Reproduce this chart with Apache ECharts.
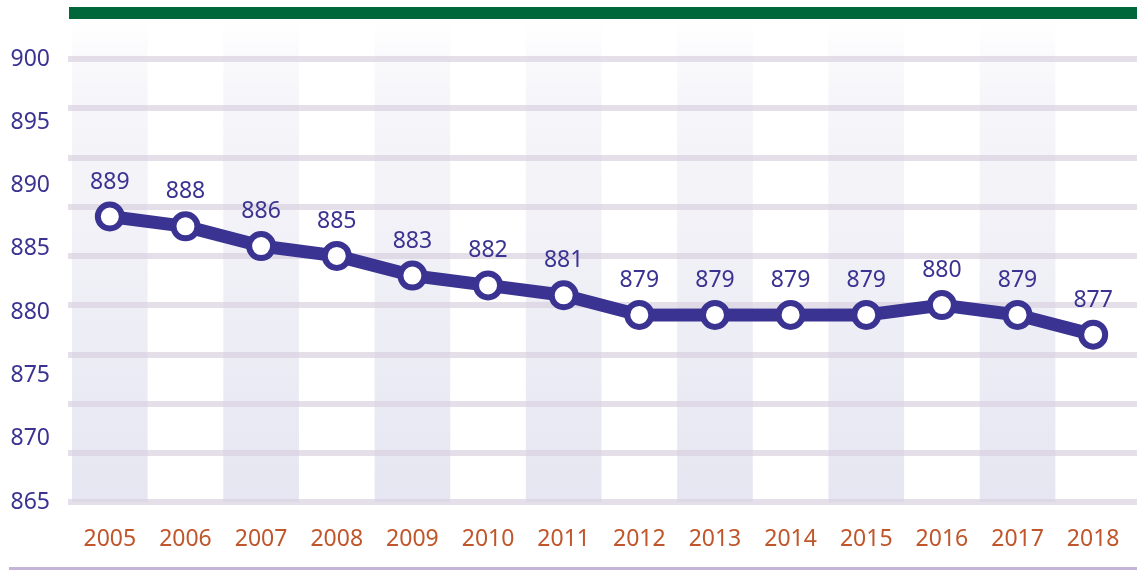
<!DOCTYPE html>
<html>
<head>
<meta charset="utf-8">
<script src="https://cdn.jsdelivr.net/npm/echarts@6/dist/echarts.min.js"></script>
<style>
  html, body { margin: 0; padding: 0; background: #fff; }
  #chart { width: 1137px; height: 570px; }
</style>
</head>
<body>
<div id="chart"></div>
<script>
const years = ['2005', '2006', '2007', '2008', '2009', '2010', '2011', '2012', '2013', '2014', '2015', '2016', '2017', '2018']
const values = [889, 888, 886, 885, 883, 882, 881, 879, 879, 879, 879, 880, 879, 877]
// tick labels shown on the left
const yTickLabels = [865, 870, 875, 880, 885, 890, 895, 900]
// scale the line and the grid lines are drawn on
const plotMin = 860
const plotMax = 905
const plotStep = 5

const purple = '#3a3391'
const font = 'Noto Sans'

const myChart = echarts.init(document.getElementById('chart'))

const bandFill = new echarts.graphic.LinearGradient(0, 0, 0, 1, [
  { offset: 0, color: 'rgba(230,230,242,0)' },
  { offset: 0.35, color: '#f3f3f8' },
  { offset: 1, color: '#e6e6f2' }
])

myChart.setOption({
  animation: false,
  grid: [
    // column bands + year labels
    { left: 72, right: 6, top: 20, bottom: 68 },
    // data line + left labels
    { left: 72, right: 6, top: 59, bottom: 68 },
    // horizontal rules
    { left: 68, right: 0, top: 59, bottom: 68 }
  ],
  xAxis: [
    {
      gridIndex: 0,
      type: 'category',
      data: years,
      boundaryGap: true,
      z: 0,
      axisLine: { show: false },
      axisTick: { show: false },
      axisLabel: {
        interval: 0,
        margin: 26,
        color: '#c0562b',
        fontFamily: font,
        fontSize: 23
      },
      splitArea: {
        show: true,
        interval: 0,
        areaStyle: { color: [bandFill, 'rgba(255,255,255,0)'] }
      }
    },
    {
      gridIndex: 1,
      type: 'category',
      data: years,
      boundaryGap: true,
      show: false
    },
    {
      gridIndex: 2,
      type: 'value',
      show: false
    }
  ],
  yAxis: [
    {
      gridIndex: 0,
      type: 'value',
      min: 0,
      max: 1,
      show: false,
      splitLine: { show: false }
    },
    {
      gridIndex: 1,
      type: 'value',
      min: plotMin,
      max: plotMax,
      interval: plotStep,
      position: 'right',
      axisLine: { show: false },
      axisTick: { show: false },
      axisLabel: { show: false },
      splitLine: { show: false }
    },
    {
      gridIndex: 1,
      type: 'value',
      position: 'left',
      min: yTickLabels[0],
      max: yTickLabels[yTickLabels.length - 1],
      interval: yTickLabels[1] - yTickLabels[0],
      axisLine: { show: false },
      axisTick: { show: false },
      splitLine: { show: false },
      axisLabel: {
        margin: 22,
        color: purple,
        fontFamily: font,
        fontSize: 23
      }
    },
    {
      gridIndex: 2,
      type: 'value',
      min: plotMin,
      max: plotMax,
      interval: plotStep,
      z: 1,
      axisLine: { show: false },
      axisTick: { show: false },
      axisLabel: { show: false },
      splitLine: {
        lineStyle: { color: 'rgba(217,208,224,0.68)', width: 6 }
      }
    }
  ],
  graphic: [
    {
      type: 'rect',
      shape: { x: 69, y: 7, width: 1068, height: 12 },
      style: { fill: '#00673a' },
      silent: true
    },
    {
      type: 'rect',
      shape: { x: 9, y: 567, width: 1128, height: 3 },
      style: { fill: '#c4b4d9' },
      silent: true
    }
  ],
  series: [{
    type: 'line',
    xAxisIndex: 1,
    yAxisIndex: 1,
    data: values,
    z: 5,
    symbol: 'circle',
    symbolSize: 24,
    lineStyle: { color: purple, width: 13 },
    itemStyle: { color: '#fff', borderColor: purple, borderWidth: 6 },
    label: {
      show: true,
      position: 'top',
      distance: 8,
      color: purple,
      fontFamily: font,
      fontSize: 23
    }
  }]
})
</script>
</body>
</html>
